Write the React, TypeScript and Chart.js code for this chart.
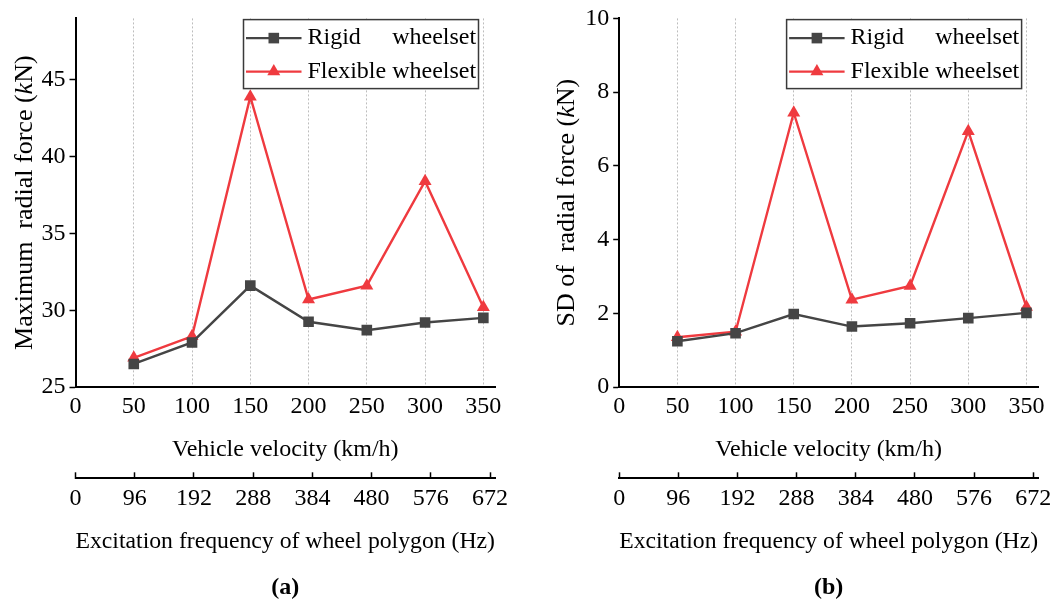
import React, { useEffect, useRef } from 'react';
import { Chart, registerables } from 'chart.js';

Chart.register(...registerables);

// ---------- data ----------
const velocities = [50, 100, 150, 200, 250, 300, 350];
const maxRigid = [26.5, 27.9, 31.6, 29.25, 28.7, 29.2, 29.5];
const maxFlexible = [26.9, 28.3, 43.9, 30.7, 31.6, 38.4, 30.2];
const sdRigid = [1.24, 1.46, 1.98, 1.64, 1.73, 1.87, 2.01];
const sdFlexible = [1.35, 1.5, 7.44, 2.37, 2.74, 6.94, 2.17];
const seriesLabels = ['Rigid wheelset', 'Flexible wheelset'];
const velocityTitle = 'Vehicle velocity (km/h)';
const frequencyTitle = 'Excitation frequency of wheel polygon (Hz)';
const velocityTicks = [0, 50, 100, 150, 200, 250, 300, 350];
const frequencyTicks = [0, 96, 192, 288, 384, 480, 576, 672];
const maxForceTicks = [25, 30, 35, 40, 45];
const sdTicks = [0, 2, 4, 6, 8, 10];

const FAMILY = "'Liberation Serif', 'Times New Roman', serif";
const GRAY = '#454545';
const RED = '#ef3a3f';
const font = { family: FAMILY, size: 24 };

type PanelCfg = {
  rigid: number[];
  flexible: number[];
  yMin: number;
  yMax: number;
  yTicks: number[];
  yTitle: [string, string, string];
  label: string;
  yWidth: number;
  yTitleX: number;
  padRight: number;
  padTop: number;
};

const panelA: PanelCfg = {
  rigid: maxRigid,
  flexible: maxFlexible,
  yMin: 25,
  yMax: 49,
  yTicks: maxForceTicks,
  yTitle: ['Maximum  radial force (', 'k', 'N)'],
  label: '(a)',
  yWidth: 75.5,
  yTitleX: 24.8,
  padRight: 37,
  padTop: 15,
};

const panelB: PanelCfg = {
  rigid: sdRigid,
  flexible: sdFlexible,
  yMin: 0,
  yMax: 10,
  yTicks: sdTicks,
  yTitle: ['SD of  radial force (', 'k', 'N)'],
  label: '(b)',
  yWidth: 87.2,
  yTitleX: 35.5,
  padRight: 25.9,
  padTop: 15.7,
};

const setTicks = (list: number[]) => (s: any) => {
  s.ticks = list.map((v) => ({ value: v }));
};

function drawMarker(ctx: CanvasRenderingContext2D, style: string, x: number, y: number, r: number, color: string) {
  ctx.save();
  ctx.fillStyle = color;
  ctx.beginPath();
  if (style === 'rect') {
    const s = r * Math.SQRT1_2;
    ctx.rect(x - s, y - s, 2 * s, 2 * s);
  } else {
    const h = (Math.sqrt(3) / 2) * r;
    ctx.moveTo(x, y - r);
    ctx.lineTo(x + h, y + r / 2);
    ctx.lineTo(x - h, y + r / 2);
    ctx.closePath();
  }
  ctx.fill();
  ctx.restore();
}

const decorPlugin = {
  id: 'panelDecor',
  afterDraw(chart: any, _args: any, opts: any) {
    const { ctx, chartArea } = chart;
    // y-axis title with italic k
    const parts: string[] = opts.yTitle;
    ctx.save();
    ctx.fillStyle = '#000';
    ctx.textBaseline = 'middle';
    ctx.textAlign = 'left';
    const fonts = [`26px ${FAMILY}`, `italic 26px ${FAMILY}`, `26px ${FAMILY}`];
    const widths = parts.map((p, i) => {
      ctx.font = fonts[i];
      return ctx.measureText(p).width;
    });
    const total = widths.reduce((a, b) => a + b, 0);
    ctx.translate(opts.yTitleX, (chartArea.top + chartArea.bottom) / 2);
    ctx.rotate(-Math.PI / 2);
    let x = -total / 2;
    parts.forEach((p, i) => {
      ctx.font = fonts[i];
      ctx.fillText(p, x, 0);
      x += widths[i];
    });
    ctx.restore();

    // legend box
    const w = 235;
    const h = 69;
    const bx = chartArea.right - 16.5 - w;
    const by = chartArea.top + 1.2;
    ctx.save();
    ctx.fillStyle = '#fff';
    ctx.fillRect(bx, by, w, h);
    ctx.strokeStyle = '#3a3a3a';
    ctx.lineWidth = 1.5;
    ctx.strokeRect(bx, by, w, h);
    ctx.font = `24px ${FAMILY}`;
    ctx.textBaseline = 'middle';
    const labels: string[] = opts.labels;
    const textX = bx + 64;
    const maxW = Math.max(...labels.map((l) => ctx.measureText(l).width));
    const rows = [by + 18.5, by + 52];
    const styles = ['rect', 'triangle'];
    const colors = [GRAY, RED];
    labels.forEach((lab, i) => {
      const ry = rows[i];
      ctx.strokeStyle = colors[i];
      ctx.lineWidth = 2.4;
      ctx.beginPath();
      ctx.moveTo(bx + 2.5, ry);
      ctx.lineTo(bx + 58, ry);
      ctx.stroke();
      drawMarker(ctx, styles[i], bx + 30.3, ry, 7.5, colors[i]);
      ctx.fillStyle = '#000';
      const sp = lab.indexOf(' ');
      const first = lab.slice(0, sp);
      const rest = lab.slice(sp + 1);
      ctx.textAlign = 'left';
      ctx.fillText(first, textX, ry);
      ctx.textAlign = 'right';
      ctx.fillText(rest, textX + maxW, ry);
    });
    ctx.restore();
  },
};

function makeConfig(p: PanelCfg): any {
  const pts = (vals: number[]) => vals.map((v, i) => ({ x: velocities[i], y: v }));
  return {
    type: 'line',
    data: {
      datasets: [
        {
          label: seriesLabels[0],
          data: pts(p.rigid),
          borderColor: GRAY,
          backgroundColor: GRAY,
          pointBackgroundColor: GRAY,
          pointBorderColor: GRAY,
          pointBorderWidth: 0,
          pointStyle: 'rect',
          pointRadius: 7.5,
          borderWidth: 2.4,
          tension: 0,
          xAxisID: 'x',
          yAxisID: 'y',
        },
        {
          label: seriesLabels[1],
          data: pts(p.flexible),
          borderColor: RED,
          backgroundColor: RED,
          pointBackgroundColor: RED,
          pointBorderColor: RED,
          pointBorderWidth: 0,
          pointStyle: 'triangle',
          pointRadius: 7.5,
          borderWidth: 2.4,
          tension: 0,
          xAxisID: 'x',
          yAxisID: 'y',
        },
      ],
    },
    options: {
      responsive: false,
      animation: false,
      devicePixelRatio: 1,
      layout: { padding: { left: 0, right: p.padRight, top: p.padTop, bottom: 3.6 } },
      scales: {
        x: {
          type: 'linear',
          position: 'bottom',
          min: 0,
          max: 360,
          afterBuildTicks: setTicks(velocityTicks),
          ticks: {
            padding: 5.6,
            font,
            color: '#000',
            maxRotation: 0,
            autoSkip: false,
          },
          grid: {
            drawTicks: false,
            color: '#bdbdbd',
            lineWidth: 1,
          },
          border: { display: true, color: '#000', width: 2, dash: [2, 2] },
          title: {
            display: true,
            text: velocityTitle,
            font,
            color: '#000',
            padding: { top: 0, bottom: 13.9 },
          },
          afterFit: (s: any) => {
            s.height = 91.3;
          },
        },
        x2: {
          type: 'linear',
          axis: 'x',
          position: 'bottom',
          min: 0,
          max: 680,
          afterBuildTicks: setTicks(frequencyTicks),
          ticks: {
            padding: 11.6,
            font,
            color: '#000',
            maxRotation: 0,
            autoSkip: false,
          },
          grid: {
            drawOnChartArea: false,
            drawTicks: true,
            tickLength: -6,
            tickColor: '#000',
            tickWidth: 1.5,
          },
          border: { display: true, color: '#000', width: 2 },
          title: {
            display: true,
            text: frequencyTitle,
            font,
            color: '#000',
            padding: { top: 0, bottom: 1.9 },
          },
          afterFit: (s: any) => {
            s.height = 80;
          },
        },
        y: {
          type: 'linear',
          position: 'left',
          min: p.yMin,
          max: p.yMax,
          afterBuildTicks: setTicks(p.yTicks),
          ticks: {
            padding: 4,
            font,
            color: '#000',
          },
          grid: {
            drawOnChartArea: false,
            drawTicks: true,
            tickLength: 6,
            tickColor: '#000',
            tickWidth: 1.5,
          },
          border: { display: true, color: '#000', width: 2 },
          title: { display: false },
          afterFit: (s: any) => {
            s.width = p.yWidth;
          },
        },
      },
      plugins: {
        legend: { display: false },
        tooltip: { enabled: false },
        title: {
          display: true,
          text: p.label,
          position: 'bottom',
          fullSize: false,
          font: { family: FAMILY, size: 24, weight: 'bold' },
          color: '#000',
          padding: { top: 15.3, bottom: 0 },
        },
        panelDecor: {
          yTitle: p.yTitle,
          yTitleX: p.yTitleX,
          labels: seriesLabels,
        },
      },
    },
    plugins: [decorPlugin],
  };
}

function Panel({ cfg, left }: { cfg: PanelCfg; left: number }) {
  const ref = useRef<HTMLCanvasElement | null>(null);
  useEffect(() => {
    if (!ref.current) return;
    const chart = new Chart(ref.current, makeConfig(cfg));
    return () => chart.destroy();
  }, [cfg]);
  return (
    <canvas
      ref={ref}
      width={532}
      height={606}
      style={{ position: 'absolute', left, top: 0, width: 532, height: 606 }}
    />
  );
}

export default function App() {
  return (
    <div style={{ position: 'absolute', left: 0, top: 0, width: 1064, height: 606, background: '#fff' }}>
      <Panel cfg={panelA} left={0} />
      <Panel cfg={panelB} left={532} />
    </div>
  );
}
